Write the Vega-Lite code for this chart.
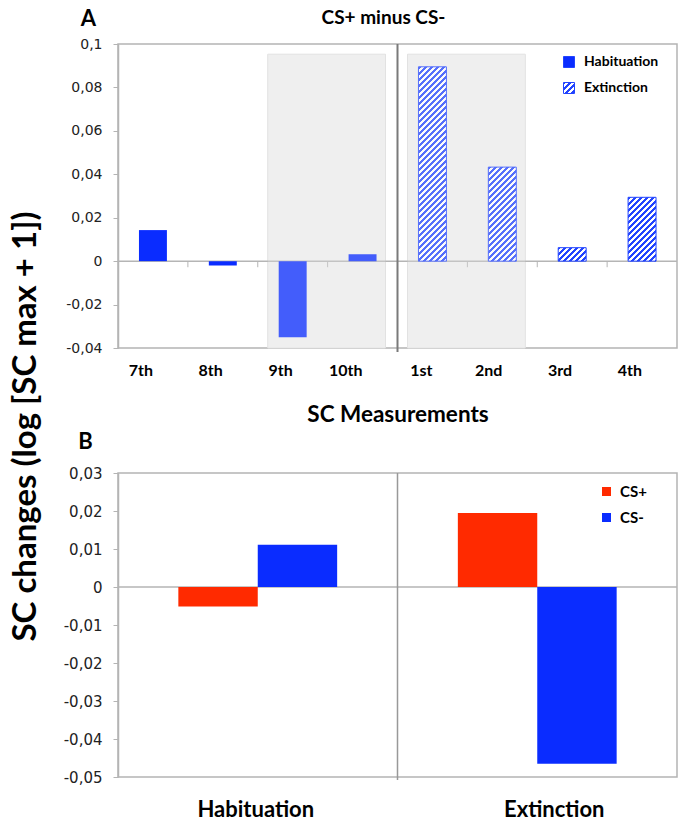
{
  "$schema": "https://vega.github.io/schema/vega-lite/v6.json",
  "padding": {"left": 8, "top": 6, "right": 5, "bottom": 5},
  "params": [
    {"name": "hatch", "value": [
      {"offset":0,"color":"#24f"},
      {"offset":0.0125,"color":"#24f"},{"offset":0.0125,"color":"#fff"},
      {"offset":0.025,"color":"#fff"},{"offset":0.025,"color":"#24f"},
      {"offset":0.0375,"color":"#24f"},{"offset":0.0375,"color":"#fff"},
      {"offset":0.05,"color":"#fff"},{"offset":0.05,"color":"#24f"},
      {"offset":0.0625,"color":"#24f"},{"offset":0.0625,"color":"#fff"},
      {"offset":0.075,"color":"#fff"},{"offset":0.075,"color":"#24f"},
      {"offset":0.0875,"color":"#24f"},{"offset":0.0875,"color":"#fff"},
      {"offset":0.1,"color":"#fff"},{"offset":0.1,"color":"#24f"},
      {"offset":0.1125,"color":"#24f"},{"offset":0.1125,"color":"#fff"},
      {"offset":0.125,"color":"#fff"},{"offset":0.125,"color":"#24f"},
      {"offset":0.1375,"color":"#24f"},{"offset":0.1375,"color":"#fff"},
      {"offset":0.15,"color":"#fff"},{"offset":0.15,"color":"#24f"},
      {"offset":0.1625,"color":"#24f"},{"offset":0.1625,"color":"#fff"},
      {"offset":0.175,"color":"#fff"},{"offset":0.175,"color":"#24f"},
      {"offset":0.1875,"color":"#24f"},{"offset":0.1875,"color":"#fff"},
      {"offset":0.2,"color":"#fff"},{"offset":0.2,"color":"#24f"},
      {"offset":0.2125,"color":"#24f"},{"offset":0.2125,"color":"#fff"},
      {"offset":0.225,"color":"#fff"},{"offset":0.225,"color":"#24f"},
      {"offset":0.2375,"color":"#24f"},{"offset":0.2375,"color":"#fff"},
      {"offset":0.25,"color":"#fff"},{"offset":0.25,"color":"#24f"},
      {"offset":0.2625,"color":"#24f"},{"offset":0.2625,"color":"#fff"},
      {"offset":0.275,"color":"#fff"},{"offset":0.275,"color":"#24f"},
      {"offset":0.2875,"color":"#24f"},{"offset":0.2875,"color":"#fff"},
      {"offset":0.3,"color":"#fff"},{"offset":0.3,"color":"#24f"},
      {"offset":0.3125,"color":"#24f"},{"offset":0.3125,"color":"#fff"},
      {"offset":0.325,"color":"#fff"},{"offset":0.325,"color":"#24f"},
      {"offset":0.3375,"color":"#24f"},{"offset":0.3375,"color":"#fff"},
      {"offset":0.35,"color":"#fff"},{"offset":0.35,"color":"#24f"},
      {"offset":0.3625,"color":"#24f"},{"offset":0.3625,"color":"#fff"},
      {"offset":0.375,"color":"#fff"},{"offset":0.375,"color":"#24f"},
      {"offset":0.3875,"color":"#24f"},{"offset":0.3875,"color":"#fff"},
      {"offset":0.4,"color":"#fff"},{"offset":0.4,"color":"#24f"},
      {"offset":0.4125,"color":"#24f"},{"offset":0.4125,"color":"#fff"},
      {"offset":0.425,"color":"#fff"},{"offset":0.425,"color":"#24f"},
      {"offset":0.4375,"color":"#24f"},{"offset":0.4375,"color":"#fff"},
      {"offset":0.45,"color":"#fff"},{"offset":0.45,"color":"#24f"},
      {"offset":0.4625,"color":"#24f"},{"offset":0.4625,"color":"#fff"},
      {"offset":0.475,"color":"#fff"},{"offset":0.475,"color":"#24f"},
      {"offset":0.4875,"color":"#24f"},{"offset":0.4875,"color":"#fff"},
      {"offset":0.5,"color":"#fff"},{"offset":0.5,"color":"#24f"},
      {"offset":0.5125,"color":"#24f"},{"offset":0.5125,"color":"#fff"},
      {"offset":0.525,"color":"#fff"},{"offset":0.525,"color":"#24f"},
      {"offset":0.5375,"color":"#24f"},{"offset":0.5375,"color":"#fff"},
      {"offset":0.55,"color":"#fff"},{"offset":0.55,"color":"#24f"},
      {"offset":0.5625,"color":"#24f"},{"offset":0.5625,"color":"#fff"},
      {"offset":0.575,"color":"#fff"},{"offset":0.575,"color":"#24f"},
      {"offset":0.5875,"color":"#24f"},{"offset":0.5875,"color":"#fff"},
      {"offset":0.6,"color":"#fff"},{"offset":0.6,"color":"#24f"},
      {"offset":0.6125,"color":"#24f"},{"offset":0.6125,"color":"#fff"},
      {"offset":0.625,"color":"#fff"},{"offset":0.625,"color":"#24f"},
      {"offset":0.6375,"color":"#24f"},{"offset":0.6375,"color":"#fff"},
      {"offset":0.65,"color":"#fff"},{"offset":0.65,"color":"#24f"},
      {"offset":0.6625,"color":"#24f"},{"offset":0.6625,"color":"#fff"},
      {"offset":0.675,"color":"#fff"},{"offset":0.675,"color":"#24f"},
      {"offset":0.6875,"color":"#24f"},{"offset":0.6875,"color":"#fff"},
      {"offset":0.7,"color":"#fff"},{"offset":0.7,"color":"#24f"},
      {"offset":0.7125,"color":"#24f"},{"offset":0.7125,"color":"#fff"},
      {"offset":0.725,"color":"#fff"},{"offset":0.725,"color":"#24f"},
      {"offset":0.7375,"color":"#24f"},{"offset":0.7375,"color":"#fff"},
      {"offset":0.75,"color":"#fff"},{"offset":0.75,"color":"#24f"},
      {"offset":0.7625,"color":"#24f"},{"offset":0.7625,"color":"#fff"},
      {"offset":0.775,"color":"#fff"},{"offset":0.775,"color":"#24f"},
      {"offset":0.7875,"color":"#24f"},{"offset":0.7875,"color":"#fff"},
      {"offset":0.8,"color":"#fff"},{"offset":0.8,"color":"#24f"},
      {"offset":0.8125,"color":"#24f"},{"offset":0.8125,"color":"#fff"},
      {"offset":0.825,"color":"#fff"},{"offset":0.825,"color":"#24f"},
      {"offset":0.8375,"color":"#24f"},{"offset":0.8375,"color":"#fff"},
      {"offset":0.85,"color":"#fff"},{"offset":0.85,"color":"#24f"},
      {"offset":0.8625,"color":"#24f"},{"offset":0.8625,"color":"#fff"},
      {"offset":0.875,"color":"#fff"},{"offset":0.875,"color":"#24f"},
      {"offset":0.8875,"color":"#24f"},{"offset":0.8875,"color":"#fff"},
      {"offset":0.9,"color":"#fff"},{"offset":0.9,"color":"#24f"},
      {"offset":0.9125,"color":"#24f"},{"offset":0.9125,"color":"#fff"},
      {"offset":0.925,"color":"#fff"},{"offset":0.925,"color":"#24f"},
      {"offset":0.9375,"color":"#24f"},{"offset":0.9375,"color":"#fff"},
      {"offset":0.95,"color":"#fff"},{"offset":0.95,"color":"#24f"},
      {"offset":0.9625,"color":"#24f"},{"offset":0.9625,"color":"#fff"},
      {"offset":0.975,"color":"#fff"},{"offset":0.975,"color":"#24f"},
      {"offset":0.9875,"color":"#24f"},{"offset":0.9875,"color":"#fff"},
      {"offset":1,"color":"#fff"}
    ]},
    {"name": "hatchSq", "expr": "{gradient: 'linear', x1: 0, y1: 0, x2: 10.9, y2: 10.9, stops: hatch}"}
  ],
  "config": {
    "view": {"stroke": "#b4b4b4", "strokeWidth": 1.5},
    "axis": {"domainColor": "#b4b4b4", "domainWidth": 1.5, "tickColor": "#b4b4b4"}
  },
  "bounds": "flush",
  "spacing": 125,
  "resolve": {"scale": {"fill": "independent", "color": "independent"}},
  "vconcat": [
    {
      "width": 559,
      "height": 304,
      "title": {"text": "CS+ minus CS-", "frame": "group", "anchor": "middle", "dx": -14, "offset": -40, "baseline": "bottom",
                "font": "Lato", "fontSize": 19, "fontWeight": "bold", "color": "#000"},
      "data": {"values": [
        {"session": "7th", "phase": "Habituation", "value": 0.0143},
        {"session": "8th", "phase": "Habituation", "value": -0.002},
        {"session": "9th", "phase": "Habituation", "value": -0.035},
        {"session": "10th", "phase": "Habituation", "value": 0.0032},
        {"session": "1st", "phase": "Extinction", "value": 0.0895},
        {"session": "2nd", "phase": "Extinction", "value": 0.0433},
        {"session": "3rd", "phase": "Extinction", "value": 0.0062},
        {"session": "4th", "phase": "Extinction", "value": 0.0294}
      ]},
      "layer": [
        {
          "data": {"values": [{"from": "9th", "to": "10th"}, {"from": "1st", "to": "2nd"}]},
          "mark": {"type": "rect", "fill": "#efefef", "stroke": "#e0e0e0", "strokeWidth": 1, "xOffset": 10, "x2Offset": -12},
          "encoding": {
            "x": {"field": "from", "type": "nominal", "bandPosition": 0, "title": "SC Measurements",
                  "scale": {"domain": ["7th", "8th", "9th", "10th", "1st", "2nd", "3rd", "4th"], "paddingInner": 0, "paddingOuter": 0}},
            "x2": {"field": "to", "bandPosition": 1},
            "y": {"datum": 0.0953, "type": "quantitative", "title": "A", "scale": {"domain": [-0.04, 0.1], "nice": false}},
            "y2": {"datum": -0.04}
          }
        },
        {
          "data": {"values": [{}]},
          "mark": {"type": "rule", "color": "#b5b5b5", "strokeWidth": 1.5},
          "encoding": {
            "y": {"datum": 0, "type": "quantitative", "title": "A", "scale": {"domain": [-0.04, 0.1], "nice": false}}
          }
        },
        {
          "data": {"values": [{"session": "8th"}, {"session": "9th"}, {"session": "10th"}, {"session": "2nd"}, {"session": "3rd"}, {"session": "4th"}]},
          "mark": {"type": "rule", "color": "#b5b5b5", "strokeWidth": 1},
          "encoding": {
            "x": {"field": "session", "type": "nominal", "bandPosition": 0, "title": "SC Measurements",
                  "scale": {"domain": ["7th", "8th", "9th", "10th", "1st", "2nd", "3rd", "4th"], "paddingInner": 0, "paddingOuter": 0}},
            "y": {"datum": 0, "type": "quantitative", "title": "A", "scale": {"domain": [-0.04, 0.1], "nice": false}},
            "y2": {"datum": -0.0028}
          }
        },
        {
          "transform": [{"filter": "datum.phase === 'Habituation'"}],
          "mark": {"type": "bar", "width": {"band": 0.4}},
          "encoding": {
            "x": {"field": "session", "type": "nominal", "title": "SC Measurements",
                  "scale": {"domain": ["7th", "8th", "9th", "10th", "1st", "2nd", "3rd", "4th"], "paddingInner": 0, "paddingOuter": 0},
                  "axis": {"ticks": false, "domain": false, "labelAngle": 0, "labelPadding": 22,
                           "labelFont": "Lato", "labelFontSize": 16, "labelFontWeight": "bold", "labelColor": "#000",
                           "titleFont": "Lato", "titleFontSize": 22.5, "titleFontWeight": "bold", "titleColor": "#000", "titlePadding": 25}},
            "y": {"field": "value", "type": "quantitative", "title": "A",
                  "scale": {"domain": [-0.04, 0.1], "nice": false},
                  "axis": {"values": [-0.04, -0.02, 0, 0.02, 0.04, 0.06, 0.08, 0.1], "tickCount": 10,
                           "labelExpr": "replace(toString(datum.value), '.', ',')",
                           "grid": false, "tickSize": 5, "labelPadding": 11, "labelOverlap": false,
                           "labelFont": "DejaVu Sans", "labelFontSize": 14, "labelColor": "#222",
                           "titleAngle": 0, "titleX": -30, "titleY": -26, "titleAlign": "center", "titleBaseline": "middle",
                           "titleFont": "Lato", "titleFontSize": 22, "titleFontWeight": "bold", "titleColor": "#000"}},
            "fill": {"field": "phase", "type": "nominal",
                     "scale": {"domain": ["Habituation", "Extinction"], "range": ["#0a2cff", {"expr": "hatchSq"}]},
                     "legend": {"title": null, "orient": "none", "legendX": 444, "legendY": 11, "padding": 0,
                                "symbolType": "square", "symbolSize": 121, "symbolStrokeColor": "#24f", "symbolStrokeWidth": 1,
                                "labelFont": "Lato", "labelFontSize": 14, "labelFontWeight": "bold", "labelColor": "#000",
                                "labelOffset": 8, "rowPadding": 10}}
          }
        },
        {
          "transform": [{"filter": "datum.phase === 'Extinction'"}],
          "mark": {"type": "bar", "width": {"band": 0.4}, "stroke": "#24f", "strokeWidth": 1,
                   "fill": {"expr": "{gradient: 'linear', x1: 0, y1: 0, x2: 6708 / (781.2 + pow(2171.4 * datum.value, 2)), y2: 521136 * datum.value / (781.2 + pow(2171.4 * datum.value, 2)), stops: hatch}"}},
          "encoding": {
            "x": {"field": "session", "type": "nominal", "title": "SC Measurements",
                  "scale": {"domain": ["7th", "8th", "9th", "10th", "1st", "2nd", "3rd", "4th"], "paddingInner": 0, "paddingOuter": 0}},
            "y": {"field": "value", "type": "quantitative", "title": "A", "scale": {"domain": [-0.04, 0.1], "nice": false}}
          }
        },
        {
          "data": {"values": [{"from": "9th", "to": "10th"}, {"from": "1st", "to": "2nd"}]},
          "mark": {"type": "rect", "fill": "#eeeeee", "opacity": 0.25, "xOffset": 10, "x2Offset": -12},
          "encoding": {
            "x": {"field": "from", "type": "nominal", "bandPosition": 0, "title": "SC Measurements",
                  "scale": {"domain": ["7th", "8th", "9th", "10th", "1st", "2nd", "3rd", "4th"], "paddingInner": 0, "paddingOuter": 0}},
            "x2": {"field": "to", "bandPosition": 1},
            "y": {"datum": 0.0953, "type": "quantitative", "title": "A", "scale": {"domain": [-0.04, 0.1], "nice": false}},
            "y2": {"datum": -0.04}
          }
        },
        {
          "data": {"values": [{"session": "1st"}]},
          "mark": {"type": "rule", "color": "#7a7a7a", "strokeWidth": 2, "y2Offset": 4},
          "encoding": {
            "x": {"field": "session", "type": "nominal", "bandPosition": 0, "title": "SC Measurements",
                  "scale": {"domain": ["7th", "8th", "9th", "10th", "1st", "2nd", "3rd", "4th"], "paddingInner": 0, "paddingOuter": 0}},
            "y": {"datum": 0.1, "type": "quantitative", "title": "A", "scale": {"domain": [-0.04, 0.1], "nice": false}},
            "y2": {"datum": -0.04}
          }
        }
      ]
    },
    {
      "width": 559,
      "height": 304,
      "data": {"values": [
        {"phase": "Habituation", "stimulus": "CS+", "value": -0.0051},
        {"phase": "Habituation", "stimulus": "CS-", "value": 0.0111},
        {"phase": "Extinction", "stimulus": "CS+", "value": 0.0195},
        {"phase": "Extinction", "stimulus": "CS-", "value": -0.0465}
      ]},
      "layer": [
        {
          "data": {"values": [{}]},
          "mark": {"type": "rule", "color": "#b5b5b5", "strokeWidth": 1.5},
          "encoding": {
            "y": {"datum": 0, "type": "quantitative", "title": "SC changes (log [SC max + 1])", "scale": {"domain": [-0.05, 0.03], "nice": false}}
          }
        },
        {
          "mark": {"type": "bar"},
          "encoding": {
            "x": {"field": "phase", "type": "nominal", "title": "B",
                  "scale": {"domain": ["Habituation", "Extinction"], "paddingInner": 0, "paddingOuter": 0},
                  "axis": {"ticks": false, "domain": false, "labelAngle": 0, "labelPadding": 22,
                           "labelOffset": {"condition": {"test": "datum.value === 'Extinction'", "value": 17}, "value": -2},
                           "labelFont": "Lato", "labelFontSize": 22, "labelFontWeight": "bold", "labelColor": "#000",
                           "titleAngle": 0, "titleX": -33, "titleY": -336, "titleAlign": "center", "titleBaseline": "middle",
                           "titleFont": "Lato", "titleFontSize": 22, "titleFontWeight": "bold", "titleColor": "#000"}},
            "xOffset": {"field": "stimulus", "type": "nominal", "sort": ["CS+", "CS-"],
                        "scale": {"paddingInner": 0, "paddingOuter": 0.76}},
            "y": {"field": "value", "type": "quantitative", "title": "SC changes (log [SC max + 1])",
                  "scale": {"domain": [-0.05, 0.03], "nice": false},
                  "axis": {"values": [-0.05, -0.04, -0.03, -0.02, -0.01, 0, 0.01, 0.02, 0.03], "tickCount": 10,
                           "labelExpr": "replace(toString(datum.value), '.', ',')",
                           "grid": false, "tickSize": 5, "labelPadding": 11, "labelOverlap": false,
                           "labelFont": "DejaVu Sans", "labelFontSize": 15, "labelColor": "#222",
                           "titleAngle": -90, "titleX": -93, "titleY": -47,
                           "titleAlign": "center", "titleBaseline": "middle",
                           "titleFont": "Lato", "titleFontSize": 33, "titleFontWeight": "bold", "titleColor": "#000"}},
            "color": {"field": "stimulus", "type": "nominal", "sort": ["CS+", "CS-"],
                      "scale": {"range": ["#ff2a00", "#0a2cff"]},
                      "legend": {"title": null, "orient": "none", "legendX": 481, "legendY": 11, "padding": 0,
                                 "symbolType": "square", "symbolSize": 81, "symbolStrokeWidth": 0,
                                 "labelFont": "Lato", "labelFontSize": 15, "labelFontWeight": "bold", "labelColor": "#000",
                                 "labelOffset": 6, "rowPadding": 10}}
          }
        },
        {
          "data": {"values": [{"phase": "Extinction"}]},
          "mark": {"type": "rule", "color": "#999999", "strokeWidth": 1.5, "y2Offset": 3},
          "encoding": {
            "x": {"field": "phase", "type": "nominal", "bandPosition": 0, "title": "B",
                  "scale": {"domain": ["Habituation", "Extinction"], "paddingInner": 0, "paddingOuter": 0}},
            "y": {"datum": 0.03, "type": "quantitative", "title": "SC changes (log [SC max + 1])", "scale": {"domain": [-0.05, 0.03], "nice": false}},
            "y2": {"datum": -0.05}
          }
        }
      ]
    }
  ]
}
